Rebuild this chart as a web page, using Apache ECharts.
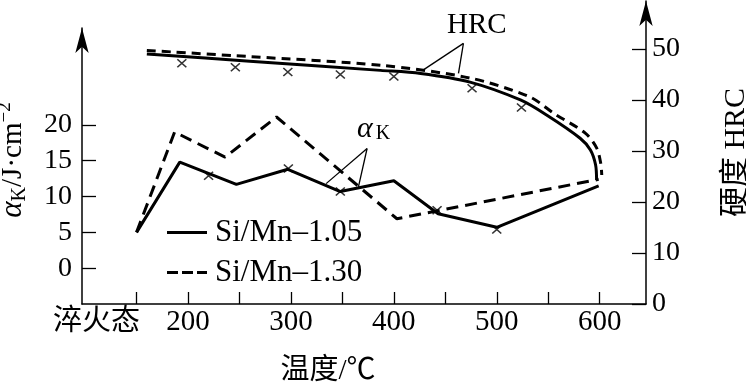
<!DOCTYPE html>
<html><head><meta charset="utf-8">
<script src="https://cdn.jsdelivr.net/npm/echarts@6/dist/echarts.min.js"></script>
<style>html,body{margin:0;padding:0;background:#fff}#c{width:746px;height:382px}</style>
</head><body><div id="c"></div>
<script>
// ---- data ----
const xTicks = [150, 200, 250, 300, 350, 400, 450, 500, 550, 600];
const xLabelValues = [150, 200, 300, 400, 500, 600];
const xLabelNames = ['淬火态', '200', '300', '400', '500', '600'];
const akTicks = [0, 5, 10, 15, 20];
const hrcTicks = [0, 10, 20, 30, 40, 50];

const akSolid = [[150, 5], [192, 14.8], [247, 11.7], [297, 13.8], [348, 10.7], [400, 12.2], [443, 7.6], [500, 5.7], [599, 11.5]];
const akDashed = [[150, 5], [187, 19.0], [236, 15.5], [286, 21.1], [403, 6.9], [599, 12.4]];
const hrcSolid = [[160, 49.0], [260, 47.6], [387, 45.8], [426, 45.2], [474, 43.5], [523, 40.0], [548, 37.1], [581, 32.5], [591, 30.2], [596, 27.3], [597, 24.3]];
const hrcDashed = [[160, 49.7], [260, 48.5], [387, 46.8], [474, 44.3], [532, 40.6], [556, 37.3], [586, 33.5], [597, 30.6], [601, 27.6], [602, 25.3]];
const akMarks = [[220, 12.9], [297.5, 13.9], [348, 10.7], [442, 8.1], [500, 5.4]];
const hrcMarks = [[194, 47.2], [246, 46.4], [297, 45.5], [348, 45.0], [400, 44.6], [476, 42.3], [524, 38.5]];
// annotation pointers (data space)
const hrcPointer = { apex: [467.6, 51.1], ends: [[428.7, 45.9], [462.8, 45.2]] };
const akPointer = { apex: [374, 16.7], ends: [[334.2, 11.8], [365.6, 11.35]] };
const seriesNames = ['Si/Mn–1.05', 'Si/Mn–1.30'];

// ---- chart ----
const FONT = '"Liberation Serif","Times New Roman","Noto Sans CJK SC",serif';
const black = '#000';
const chart = echarts.init(document.getElementById('c'), null, { renderer: 'canvas' });

function pointerLines(p) {
  return p.ends.map(e => [{ coord: p.apex }, { coord: e }]);
}
const crossSymbol = 'path://M0,0L10,10M10,0L0,10';

chart.setOption({
  animation: false,
  backgroundColor: '#fff',
  textStyle: { fontFamily: FONT, color: black },
  grid: [
    { left: 82, right: 100, top: 28, bottom: 78, containLabel: false, outerBoundsMode: 'none' },
    { left: 82, right: 100, top: 1, bottom: 78, containLabel: false, outerBoundsMode: 'none' }
  ],
  xAxis: [
    {
      type: 'value', gridIndex: 0, min: 97, max: 645,
      axisLine: { onZero: false, lineStyle: { color: black, width: 1.5 } },
      axisTick: { inside: true, length: 12, customValues: xTicks, lineStyle: { color: black, width: 1.3 } },
      axisLabel: {
        customValues: xLabelValues,
        formatter: v => { const i = xLabelValues.indexOf(v); return i === 0 ? '{q|' + xLabelNames[0] + '}' : xLabelNames[i]; },
        color: black, fontFamily: FONT, fontSize: 29, margin: 4,
        rich: { q: { fontFamily: FONT, fontSize: 29, color: black, padding: [0, 80, 0, 0] } }
      },
      splitLine: { show: false },
      name: '温度/℃', nameLocation: 'middle', nameGap: 53,
      nameTextStyle: { fontFamily: FONT, fontSize: 29, color: black, padding: [0, 72, 0, 0] }
    },
    { type: 'value', gridIndex: 1, min: 97, max: 645, show: false }
  ],
  yAxis: [
    {
      type: 'value', gridIndex: 0, position: 'left', min: -5, max: 33.52,
      axisLine: { show: true, onZero: false, lineStyle: { color: black, width: 1.5 }, symbol: ['none', 'arrow'], symbolSize: [10, 25] },
      axisTick: { show: true, inside: true, length: 14, customValues: akTicks, lineStyle: { color: black, width: 1.3 } },
      axisLabel: { customValues: akTicks, color: black, fontFamily: FONT, fontSize: 28, margin: 10 },
      splitLine: { show: false },
      name: '{a|α}{k|K}{b|/J·cm}{s|−2}', nameLocation: 'middle', nameRotate: 90, nameGap: 52,
      nameTextStyle: {
        padding: [0, 0, 0, 12],
        rich: {
          a: { fontFamily: FONT, fontSize: 31, fontStyle: 'italic', color: black, lineHeight: 34 },
          k: { fontFamily: FONT, fontSize: 20, color: black, verticalAlign: 'bottom', lineHeight: 34 },
          b: { fontFamily: FONT, fontSize: 29, color: black, lineHeight: 34 },
          s: { fontFamily: FONT, fontSize: 19, color: black, verticalAlign: 'top', lineHeight: 34 }
        }
      }
    },
    {
      type: 'value', gridIndex: 1, position: 'right', min: 0, max: 59.4,
      axisLine: { show: true, onZero: false, lineStyle: { color: black, width: 1.5 }, symbol: ['none', 'arrow'], symbolSize: [10, 25] },
      axisTick: { show: true, inside: true, length: 14, customValues: hrcTicks, lineStyle: { color: black, width: 1.3 } },
      axisLabel: { customValues: hrcTicks, color: black, fontFamily: FONT, fontSize: 28, margin: 6 },
      splitLine: { show: false },
      name: '硬度 HRC', nameLocation: 'middle', nameRotate: 90, nameGap: 75,
      nameTextStyle: { fontFamily: FONT, fontSize: 30, color: black }
    }
  ],
  legend: {
    orient: 'vertical', left: 162, top: 212,
    data: [
      { name: seriesNames[0], icon: 'path://M0,0H40V3H0Z' },
      { name: seriesNames[1], icon: 'path://M0,0H11V3H0Z M15,0H26V3H15Z M30,0H40V3H30Z' }
    ],
    itemWidth: 40, itemHeight: 3, itemGap: 9,
    itemStyle: { color: black, borderWidth: 0 },
    textStyle: { fontFamily: FONT, fontSize: 31, color: black, lineHeight: 31, padding: [0, 0, 0, 3] }
  },
  series: [
    {
      name: seriesNames[0], type: 'line', xAxisIndex: 0, yAxisIndex: 0, data: akSolid,
      symbol: 'none', lineStyle: { color: black, width: 3, type: 'solid' }, itemStyle: { color: black },
      markLine: { silent: true, symbol: 'none', label: { show: false }, lineStyle: { color: black, width: 1.3, type: 'solid' }, data: pointerLines(akPointer) }
    },
    {
      name: seriesNames[1], type: 'line', xAxisIndex: 0, yAxisIndex: 0, data: akDashed,
      symbol: 'none', lineStyle: { color: black, width: 3, type: [12, 7] }, itemStyle: { color: black }
    },
    {
      name: seriesNames[0], type: 'line', xAxisIndex: 1, yAxisIndex: 1, data: hrcSolid, smooth: 0.3,
      symbol: 'none', lineStyle: { color: black, width: 3, type: 'solid' }, itemStyle: { color: black }
    },
    {
      name: seriesNames[1], type: 'line', xAxisIndex: 1, yAxisIndex: 1, data: hrcDashed, smooth: 0.3,
      symbol: 'none', lineStyle: { color: black, width: 3, type: [9, 6] }, itemStyle: { color: black },
      markLine: { silent: true, symbol: 'none', label: { show: false }, lineStyle: { color: black, width: 1.3, type: 'solid' }, data: pointerLines(hrcPointer) }
    },
    {
      name: 'akMarks', type: 'scatter', xAxisIndex: 0, yAxisIndex: 0, data: akMarks,
      symbol: crossSymbol, symbolSize: [9, 8],
      itemStyle: { color: 'rgba(0,0,0,0)', borderColor: black, borderWidth: 1.5 }
    },
    {
      name: 'hrcMarks', type: 'scatter', xAxisIndex: 1, yAxisIndex: 1, data: hrcMarks,
      symbol: crossSymbol, symbolSize: [9, 8],
      itemStyle: { color: 'rgba(0,0,0,0)', borderColor: black, borderWidth: 1.5 }
    }
  ],
  graphic: [
    { type: 'text', left: 447, top: 11, style: { text: 'HRC', font: '29px ' + FONT, fill: black } },
    { type: 'text', left: 357, top: 114, style: { text: '{a|α}{k|K}', rich: {
      a: { font: 'italic 30px ' + FONT, fill: black, lineHeight: 30 },
      k: { font: '20px ' + FONT, fill: black, verticalAlign: 'bottom', lineHeight: 30, padding: [0, 0, 0, 3] } } } }
  ]
});
</script></body></html>
